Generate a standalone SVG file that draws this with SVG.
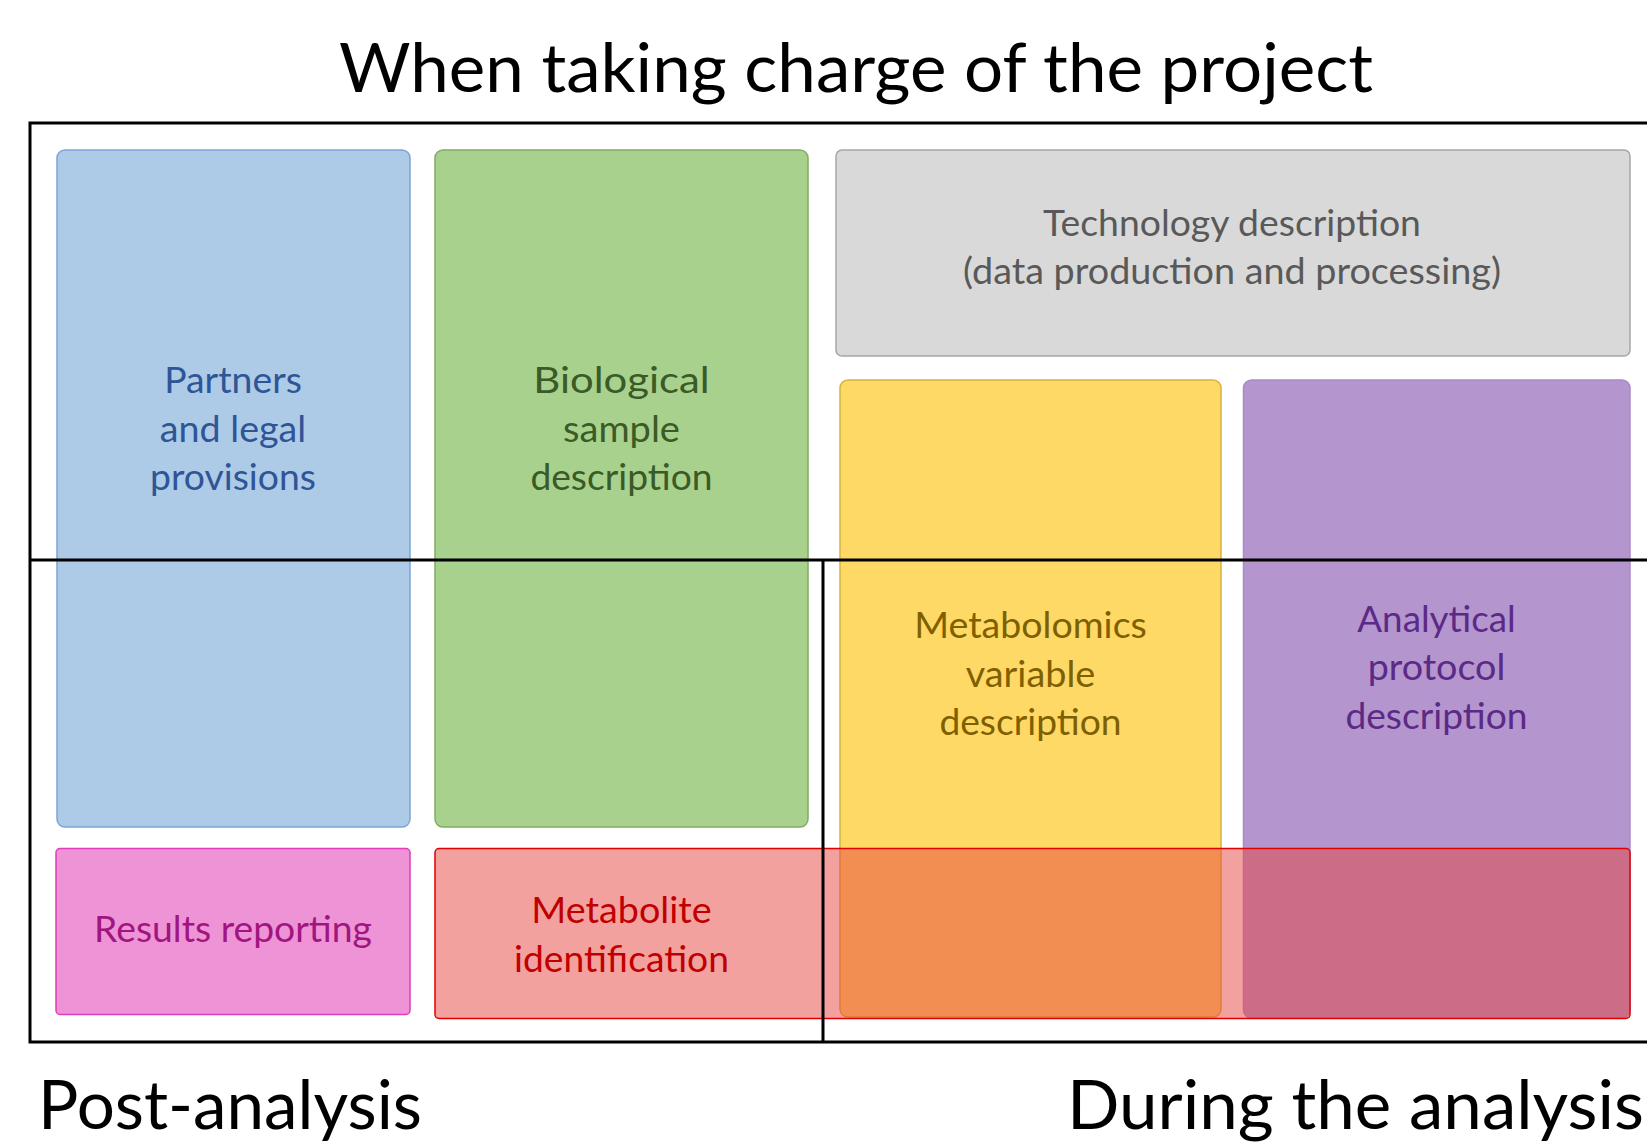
<svg xmlns="http://www.w3.org/2000/svg" width="1647" height="1142" viewBox="0 0 1647 1142">
<style>
text{font-family:Lato,"Open Sans","Liberation Sans",sans-serif;text-anchor:middle}
.lbl{font-size:36px}
.big{font-size:67px;fill:#000}
.box{stroke-width:1.5}
.frame{stroke:#000;stroke-width:3;fill:none}
</style>
<rect width="1647" height="1142" fill="#fff"/>
<text class="big" x="856" y="92" textLength="1034" lengthAdjust="spacingAndGlyphs">When taking charge of the project</text>

<g id="partners">
<rect class="box" x="57" y="150" width="353" height="677" rx="8" fill="#ADCBE7" stroke="#7EA4D8"/>
<g class="lbl" fill="#2F5597">
<text x="233" y="393" textLength="137.7" lengthAdjust="spacingAndGlyphs">Partners</text>
<text x="233" y="441.5" textLength="146.4" lengthAdjust="spacingAndGlyphs">and legal</text>
<text x="233" y="489.5" textLength="165.8" lengthAdjust="spacingAndGlyphs">provisions</text>
</g>
</g>

<g id="biological">
<rect class="box" x="435" y="150" width="373" height="677" rx="8" fill="#A9D18E" stroke="#80AD62"/>
<g class="lbl" fill="#3A5A26">
<text x="621.5" y="393" textLength="176.3" lengthAdjust="spacingAndGlyphs">Biological</text>
<text x="621.5" y="441.5" textLength="116.8" lengthAdjust="spacingAndGlyphs">sample</text>
<text x="621.5" y="489.5" textLength="182.2" lengthAdjust="spacingAndGlyphs">description</text>
</g>
</g>

<g id="technology">
<rect class="box" x="836" y="150" width="794" height="206" rx="6" fill="#D9D9D9" stroke="#A6A6A6"/>
<g class="lbl" fill="#595959">
<text x="1232" y="236" textLength="377.9" lengthAdjust="spacingAndGlyphs">Technology description</text>
<text x="1232" y="283.5" textLength="538" lengthAdjust="spacingAndGlyphs">(data production and processing)</text>
</g>
</g>

<g id="metabolomics">
<rect class="box" x="840" y="380" width="381" height="637" rx="8" fill="#FFD966" stroke="#D8B23C"/>
<g class="lbl" fill="#7F6000">
<text x="1030.5" y="638" textLength="232.7" lengthAdjust="spacingAndGlyphs">Metabolomics</text>
<text x="1030.5" y="686.5" textLength="129.6" lengthAdjust="spacingAndGlyphs">variable</text>
<text x="1030.5" y="735" textLength="182.2" lengthAdjust="spacingAndGlyphs">description</text>
</g>
</g>

<g id="analytical">
<rect class="box" x="1243.5" y="380" width="386.5" height="638" rx="8" fill="#B495CE" stroke="#A98BC8"/>
<g class="lbl" fill="#5B2A86">
<text x="1436.5" y="631.7" textLength="158.4" lengthAdjust="spacingAndGlyphs">Analytical</text>
<text x="1436.5" y="680.3" textLength="137.7" lengthAdjust="spacingAndGlyphs">protocol</text>
<text x="1436.5" y="728.6" textLength="182.2" lengthAdjust="spacingAndGlyphs">description</text>
</g>
</g>

<g id="results">
<rect class="box" x="56" y="848.5" width="354" height="166" rx="4" fill="#EF93D7" stroke="#E03DBB"/>
<text class="lbl" fill="#A0157F" x="233" y="941.5" textLength="277.8" lengthAdjust="spacingAndGlyphs">Results reporting</text>
</g>

<g id="metabolite">
<rect class="box" x="435" y="848.5" width="1195" height="170" rx="4" fill="rgb(229,67,61)" fill-opacity="0.5" stroke="#E00000"/>
<g class="lbl" fill="#C00000">
<text x="621.5" y="923" textLength="180.4" lengthAdjust="spacingAndGlyphs">Metabolite</text>
<text x="621.5" y="971.5" textLength="214.9" lengthAdjust="spacingAndGlyphs">identification</text>
</g>
</g>

<g id="frame" class="frame">
<path d="M1647 123 H30 V1042 H1647"/>
<path d="M30 560 H1647"/>
<path d="M823 560 V1042"/>
</g>

<text class="big" x="38" y="1129" style="text-anchor:start" textLength="384" lengthAdjust="spacingAndGlyphs">Post-analysis</text>
<text class="big" x="1644" y="1129" style="text-anchor:end" textLength="577" lengthAdjust="spacingAndGlyphs">During the analysis</text>
</svg>
